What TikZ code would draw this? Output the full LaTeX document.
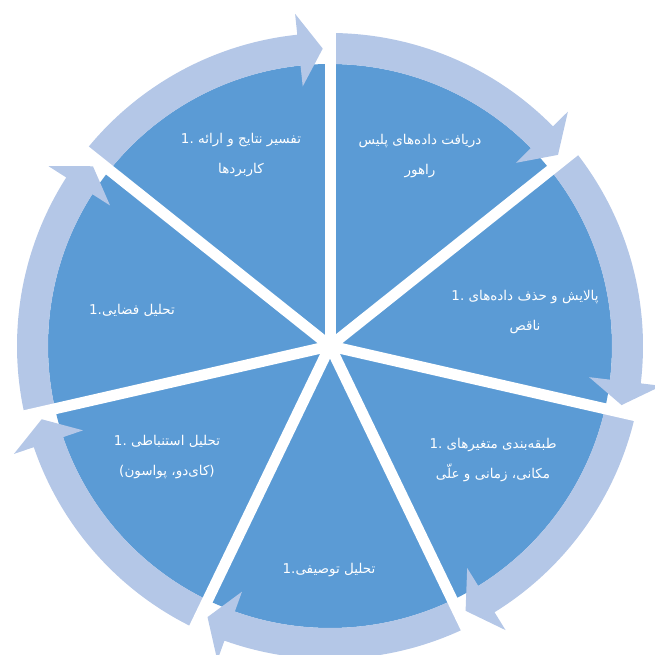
\documentclass[tikz,border=0pt]{standalone}
\usepackage{fontspec}
\newfontfamily\fa[Script=Arabic]{DejaVu Sans}
\newfontfamily\fal{DejaVu Sans}
\TeXXeTstate=1
\newcommand{\one}{\beginL{\fal 1.}\endL}
\definecolor{piec}{HTML}{5B9BD5}
\definecolor{arrc}{HTML}{B4C7E7}
\begin{document}
\begin{tikzpicture}[
  txt/.style={text=white, align=center, inner sep=0pt, font=\fa\fontsize{13.5}{30}\selectfont},
  gapline/.style={draw=white, line width=11pt}
]
\useasboundingbox (-330pt,-309pt) rectangle (325pt,346pt);
% pie
\fill[piec] (0,0) circle[radius=282pt];
% arrows
\foreach \k in {0,...,6}{
  \pgfmathsetmacro{\a}{90-51.428571*\k}
  \pgfmathsetmacro{\b}{\a-51.428571}
  \pgfmathsetmacro{\h}{\b+6}
  \pgfmathsetmacro{\t}{\b+1.4}
  \fill[arrc] (\a:282pt) arc[start angle=\a, end angle=\h, radius=282pt]
     -- (\h:261pt) -- (\t:297.5pt) -- (\h:334pt) -- (\h:313pt)
     arc[start angle=\h, end angle=\a, radius=313pt] -- cycle;
}
% gaps
\coordinate (c) at (0,0);
\foreach \k in {0,...,6}{
  \pgfmathsetmacro{\a}{90-51.428571*\k}
  \draw[gapline] (c) -- (\a:345pt);
}
\fill[white] (c) circle[radius=7pt];
% texts
\node[txt] (s1) at (90pt,190pt) {\beginR دریافت داده‌های پلیس\endR\\\beginR راهور\endR};
\node[txt] (s2) at (195pt,34pt) {\beginR پالایش و حذف داده‌های \one\endR\\\beginR ناقص\endR};
\node[txt] (s3) at (163pt,-114pt) {\beginR طبقه‌بندی متغیرهای \one\endR\\\beginR مکانی، زمانی و علّی\endR};
\node[txt] (s4) at (-1pt,-224pt) {\beginR تحلیل توصیفی\one\endR};
\node[txt] (s5) at (-163pt,-111pt) {\beginR تحلیل استنباطی \one\endR\\\beginR (کای‌دو، پواسون)\endR};
\node[txt] (s6) at (-198pt,36pt) {\beginR تحلیل فضایی\one\endR};
\node[txt] (s7) at (-89pt,191pt) {\beginR تفسیر نتایج و ارائه \one\endR\\\beginR کاربردها\endR};
\end{tikzpicture}
\end{document}
